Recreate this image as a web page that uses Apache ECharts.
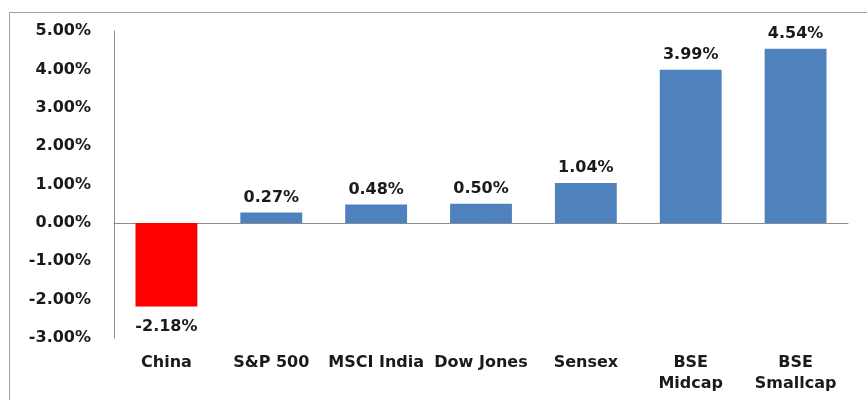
<!DOCTYPE html>
<html><head><meta charset="utf-8">
<script src="https://cdn.jsdelivr.net/npm/echarts@6/dist/echarts.min.js"></script>
<style>html,body{margin:0;padding:0;background:#fff}#c{width:867px;height:400px}</style>
</head><body><div id="c"></div>
<script>
const categories = ['China', 'S&P 500', 'MSCI India', 'Dow Jones', 'Sensex', 'BSE\nMidcap', 'BSE\nSmallcap'];
const values = [-2.18, 0.27, 0.48, 0.50, 1.04, 3.99, 4.54];
const barColors = ['#FF0000', '#4F81BD', '#4F81BD', '#4F81BD', '#4F81BD', '#4F81BD', '#4F81BD'];

const font = '"DejaVu Sans", sans-serif';
const chart = echarts.init(document.getElementById('c'));
chart.setOption({
  animation: false,
  graphic: [{
    type: 'rect', shape: { x: 9.5, y: 12.5, width: 900, height: 450 },
    style: { fill: 'none', stroke: '#a0a0a0', lineWidth: 1 }, silent: true
  }],
  grid: { left: 114, right: 19, top: 31, bottom: 62 },
  xAxis: {
    type: 'category', data: categories,
    axisLine: { onZero: true, lineStyle: { color: '#8c8c8c', width: 1 } },
    axisTick: { show: false },
    axisLabel: {
      interval: 0, fontFamily: font, fontSize: 16, fontWeight: 'bold', color: '#1a1a1a',
      lineHeight: 21, margin: 14, hideOverlap: false
    },
    position: 'bottom'
  },
  yAxis: {
    type: 'value', min: -3, max: 5, interval: 1,
    axisLine: { show: true, lineStyle: { color: '#8c8c8c', width: 1 } },
    axisTick: { show: false },
    splitLine: { show: false },
    axisLabel: {
      fontFamily: font, fontSize: 16, fontWeight: 'bold', color: '#1a1a1a', margin: 23,
      formatter: v => v.toFixed(2) + '%'
    }
  },
  series: [{
    type: 'bar', barCategoryGap: '41%',
    data: values.map((v, i) => ({
      value: v,
      itemStyle: { color: barColors[i] },
      label: v < 0 ? { position: 'bottom', distance: 12 } : { position: 'top', distance: 7 }
    })),
    label: {
      show: true, fontFamily: font, fontSize: 16, fontWeight: 'bold', color: '#1a1a1a',
      formatter: p => p.value.toFixed(2) + '%'
    }
  }]
});
</script></body></html>
